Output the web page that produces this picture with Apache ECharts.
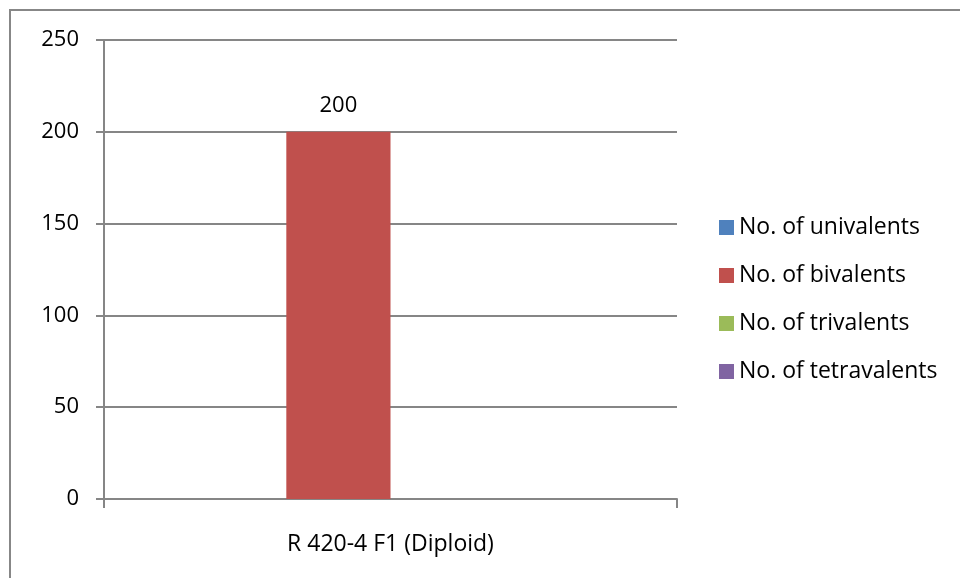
<!DOCTYPE html>
<html>
<head>
<meta charset="utf-8">
<script src="https://cdn.jsdelivr.net/npm/echarts@6/dist/echarts.min.js"></script>
<style>
  html, body { margin: 0; padding: 0; background: #fff; }
  #frame { position: absolute; left: 9px; top: 9px; width: 960px; height: 580px; border: 2px solid #878787; box-sizing: border-box; }
  #chart { position: absolute; left: 0; top: 0; width: 960px; height: 578px; }
</style>
</head>
<body>
<div id="frame"></div>
<div id="chart"></div>
<script>
// Chromosome pairing counts for the diploid F1
const categories = ['R 420-4 F1 (Diploid)'];
const seriesNames = ['No. of univalents', 'No. of bivalents', 'No. of trivalents', 'No. of tetravalents'];
const univalents = [0];
const bivalents = [200];
const trivalents = [0];
const tetravalents = [0];
const yTicks = [0, 50, 100, 150, 200, 250];

const seriesData = [univalents, bivalents, trivalents, tetravalents];
const colors = ['#4F81BD', '#C0504D', '#9BBB59', '#8064A2'];
const font = '"Open Sans", "Noto Sans", sans-serif';
const fs = 22;

const chart = echarts.init(document.getElementById('chart'), null, { renderer: 'canvas' });
chart.setOption({
  animation: false,
  textStyle: { fontFamily: font },
  grid: { left: 104, right: 283, top: 40, bottom: 79, containLabel: false },
  legend: {
    orient: 'vertical',
    left: 719,
    top: 216,
    padding: 0,
    itemWidth: 15,
    itemHeight: 15,
    itemGap: 25,
    icon: 'rect',
    textStyle: { fontSize: 23, color: '#000', fontFamily: font },
    data: seriesNames
  },
  xAxis: {
    type: 'category',
    data: categories,
    axisLine: { lineStyle: { color: '#868686', width: 2 } },
    axisTick: { show: true, length: 9, alignWithLabel: false, lineStyle: { color: '#868686', width: 2 } },
    axisLabel: { fontSize: 23, color: '#000', margin: 34, fontFamily: font }
  },
  yAxis: {
    type: 'value',
    min: yTicks[0],
    max: yTicks[yTicks.length - 1],
    interval: 50,
    axisLine: { show: true, lineStyle: { color: '#868686', width: 2 } },
    axisTick: { show: true, length: 8, inside: false, lineStyle: { color: '#868686', width: 2 } },
    splitLine: { lineStyle: { color: '#868686', width: 2 } },
    axisLabel: { fontSize: fs, color: '#000', margin: 25, fontFamily: font }
  },
  series: seriesData.map((d, i) => ({
    name: seriesNames[i],
    type: 'bar',
    data: d,
    barGap: '0%',
    barCategoryGap: '27.27%',
    itemStyle: { color: colors[i] },
    label: {
      show: i === 1,
      position: 'top',
      distance: 15,
      fontSize: fs,
      color: '#000',
      fontFamily: font
    }
  }))
});
</script>
</body>
</html>
